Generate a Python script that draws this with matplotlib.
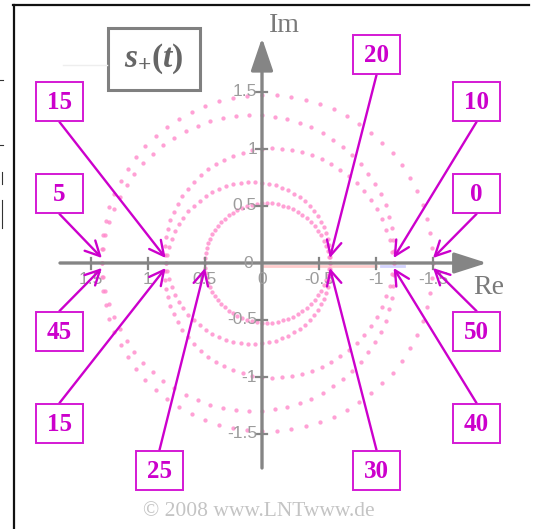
import numpy as np
import matplotlib
matplotlib.use("Agg")
import matplotlib.pyplot as plt
from matplotlib.patches import Rectangle

# --- signal: analytic signal with a cosine envelope on a rotating carrier ---
env_mean = 1.0          # mean magnitude
env_depth = 0.5         # envelope swing
env_period = 50         # envelope period
carrier_period = 10     # one full turn of the pointer
start_phase = np.pi     # pointer starts on the negative real axis
t_end = 50
steps_per_turn = 72

# time stamps marked on the locus and the side from which each arrow comes
marker_times = [15, 5, 20, 10, 0, 45, 15, 25, 30, 50, 40]
marker_text = ["15", "5", "20", "10", "0", "45", "15", "25", "30", "50", "40"]
marker_side = [1, 1, 1, 1, 1, -1, -1, -1, -1, -1, -1]

# axis ticks
x_ticks = [1.5, 1.0, 0.5, -0.5, -1.0, -1.5]
x_tick_labels = ["1.5", "1", "0.5", "-0.5", "-1", "-1.5"]
y_ticks = [1.5, 1.0, 0.5, -0.5, -1.0, -1.5]
y_tick_labels = ["1.5", "1", "0.5", "-0.5", "-1", "-1.5"]

# --- layout (pixels, origin top-left) ---
W, H = 537, 529
X0, Y0, SCALE = 262, 263, 114.0
box_pos = [(36, 82), (36, 174), (353, 35), (453, 82), (453, 174),
           (36, 312), (36, 404), (136, 451), (353, 451), (453, 312), (453, 404)]
box_w, box_h = 47, 39

MAG = "#cc00cc"
DOT = "#ff8acb"
AXC = "#858585"
TICKC = "#9c9c9c"

fig = plt.figure(figsize=(W / 100, H / 100), dpi=100)
ax = fig.add_axes([0, 0, 1, 1])
ax.set_xlim(X0 / SCALE, -(W - X0) / SCALE)
ax.set_ylim(-(H - Y0) / SCALE, Y0 / SCALE)
ax.axis("off")

lay = fig.add_axes([0, 0, 1, 1], zorder=5)
lay.set_xlim(0, W)
lay.set_ylim(H, 0)
lay.axis("off")
lay.patch.set_alpha(0)


def locus(t):
    r = env_mean + env_depth * np.cos(2 * np.pi * t / env_period)
    return r * np.exp(1j * (start_phase + 2 * np.pi * t / carrier_period))


# faint traces along the real axis
ax.plot([0, -1.0], [-0.028, -0.028], color="#ffcccc", lw=2, zorder=1)
ax.plot([-1.04, -1.25], [-0.028, -0.028], color="#d4d4ff", lw=2, zorder=1)

# coordinate axes with arrowheads
ax.annotate("", xy=(-(487 - X0) / SCALE, 0), xytext=((X0 - 60) / SCALE, 0),
            arrowprops=dict(arrowstyle="-|>,head_length=1.0,head_width=0.32",
                            mutation_scale=20, lw=2.4, color=AXC,
                            shrinkA=0, shrinkB=0), zorder=2)
ax.annotate("", xy=(0, (Y0 - 38) / SCALE), xytext=(0, -(468 - Y0) / SCALE),
            arrowprops=dict(arrowstyle="-|>,head_length=1.0,head_width=0.34",
                            mutation_scale=20, lw=2.4, color=AXC,
                            shrinkA=0, shrinkB=0), zorder=2)

tk = 5.5 / SCALE
tfs = 12.5
for v, lab in zip(x_ticks, x_tick_labels):
    ax.plot([v, v], [-tk, tk], color=AXC, lw=1.6, zorder=2)
    ax.text(v, -17 / SCALE, lab, ha="center", va="center", fontsize=tfs,
            family="Liberation Sans", color=TICKC, zorder=3)
ax.text(0, -17 / SCALE, "0", ha="center", va="center", fontsize=tfs,
        family="Liberation Sans", color=TICKC, zorder=3)
for v, lab in zip(y_ticks, y_tick_labels):
    ax.plot([-tk, tk], [v, v], color=AXC, lw=1.6, zorder=2)
    ax.text(5 / SCALE, v, lab, ha="right", va="center", fontsize=tfs,
            family="Liberation Sans", color=TICKC, zorder=3)
ax.text(14 / SCALE, 0, "0", ha="center", va="center", fontsize=tfs,
        family="Liberation Sans", color=TICKC, zorder=3)

ax.text(-(269 - X0) / SCALE, (Y0 - 26) / SCALE, "Im", ha="left", va="center",
        fontsize=20, family="Liberation Serif", color="#7a7a7a")
ax.text(-(473 - X0) / SCALE, (Y0 - 288) / SCALE, "Re", ha="left", va="center",
        fontsize=20, family="Liberation Serif", color="#7a7a7a")

# sampled locus
n = int(t_end / carrier_period * steps_per_turn)
t = np.linspace(0, t_end, n + 1)
z = locus(t)
ax.plot(z.real, z.imag, "o", ms=3.1, color=DOT, mec="none", alpha=0.8, zorder=1)

# time markers: arrows from boxes to the crossings
for tm, txt, side, (bx, by) in zip(marker_times, marker_text, marker_side, box_pos):
    zc = locus(tm)
    if side > 0:
        sx, sy = bx + box_w / 2, by + box_h + 1
    else:
        sx, sy = bx + box_w / 2, by - 1
    ax.annotate("", xy=(zc.real, side * 5 / SCALE), xycoords="data",
                xytext=(sx, sy), textcoords=lay.transData,
                arrowprops=dict(arrowstyle="->,head_length=0.75,head_width=0.38",
                                mutation_scale=14, lw=1.7, color=MAG,
                                shrinkA=0, shrinkB=0), zorder=4)
    lay.add_patch(Rectangle((bx, by), box_w, box_h, facecolor="white",
                            edgecolor="#d419d4", lw=1.4))
    lay.text(bx + box_w / 2, by + box_h / 2 + 1, txt, ha="center", va="center",
             fontsize=18, fontweight="bold", family="Liberation Serif", color=MAG)

# title box
plt.rcParams["mathtext.fontset"] = "custom"
plt.rcParams["mathtext.rm"] = "Liberation Serif:bold"
plt.rcParams["mathtext.bf"] = "Liberation Serif:bold"
plt.rcParams["mathtext.it"] = "Liberation Serif:italic:bold"
plt.rcParams["mathtext.bfit"] = "Liberation Serif:italic:bold"
lay.add_patch(Rectangle((108, 28), 92, 62, facecolor="white", edgecolor="#808080", lw=2.2))
lay.text(154, 59, r"$\mathbfit{s}_{\mathbf{+}}\mathbf{(}\mathbfit{t}\mathbf{)}$",
         ha="center", va="center", fontsize=24, color="#666666")
lay.plot([63, 107], [65, 65], color="#eeeeee", lw=1)

# frame and page edge marks
lay.plot([13.5, 13.5], [5, H], color="#111111", lw=1.6)
lay.plot([13, 529], [5, 5], color="#111111", lw=1.6)
for yy in (80, 145):
    lay.plot([0, 3], [yy, yy], color="#333333", lw=0.8)
for y1, y2 in ((172, 184), (200, 228)):
    lay.plot([1.5, 1.5], [y1, y2], color="#333333", lw=0.8)

lay.text(259, 511, "\u00a9 2008 www.LNTwww.de", ha="center", va="center",
         fontsize=15.5, family="Liberation Serif", color="#c4c4c4")

fig.savefig("out.png", dpi=100)
